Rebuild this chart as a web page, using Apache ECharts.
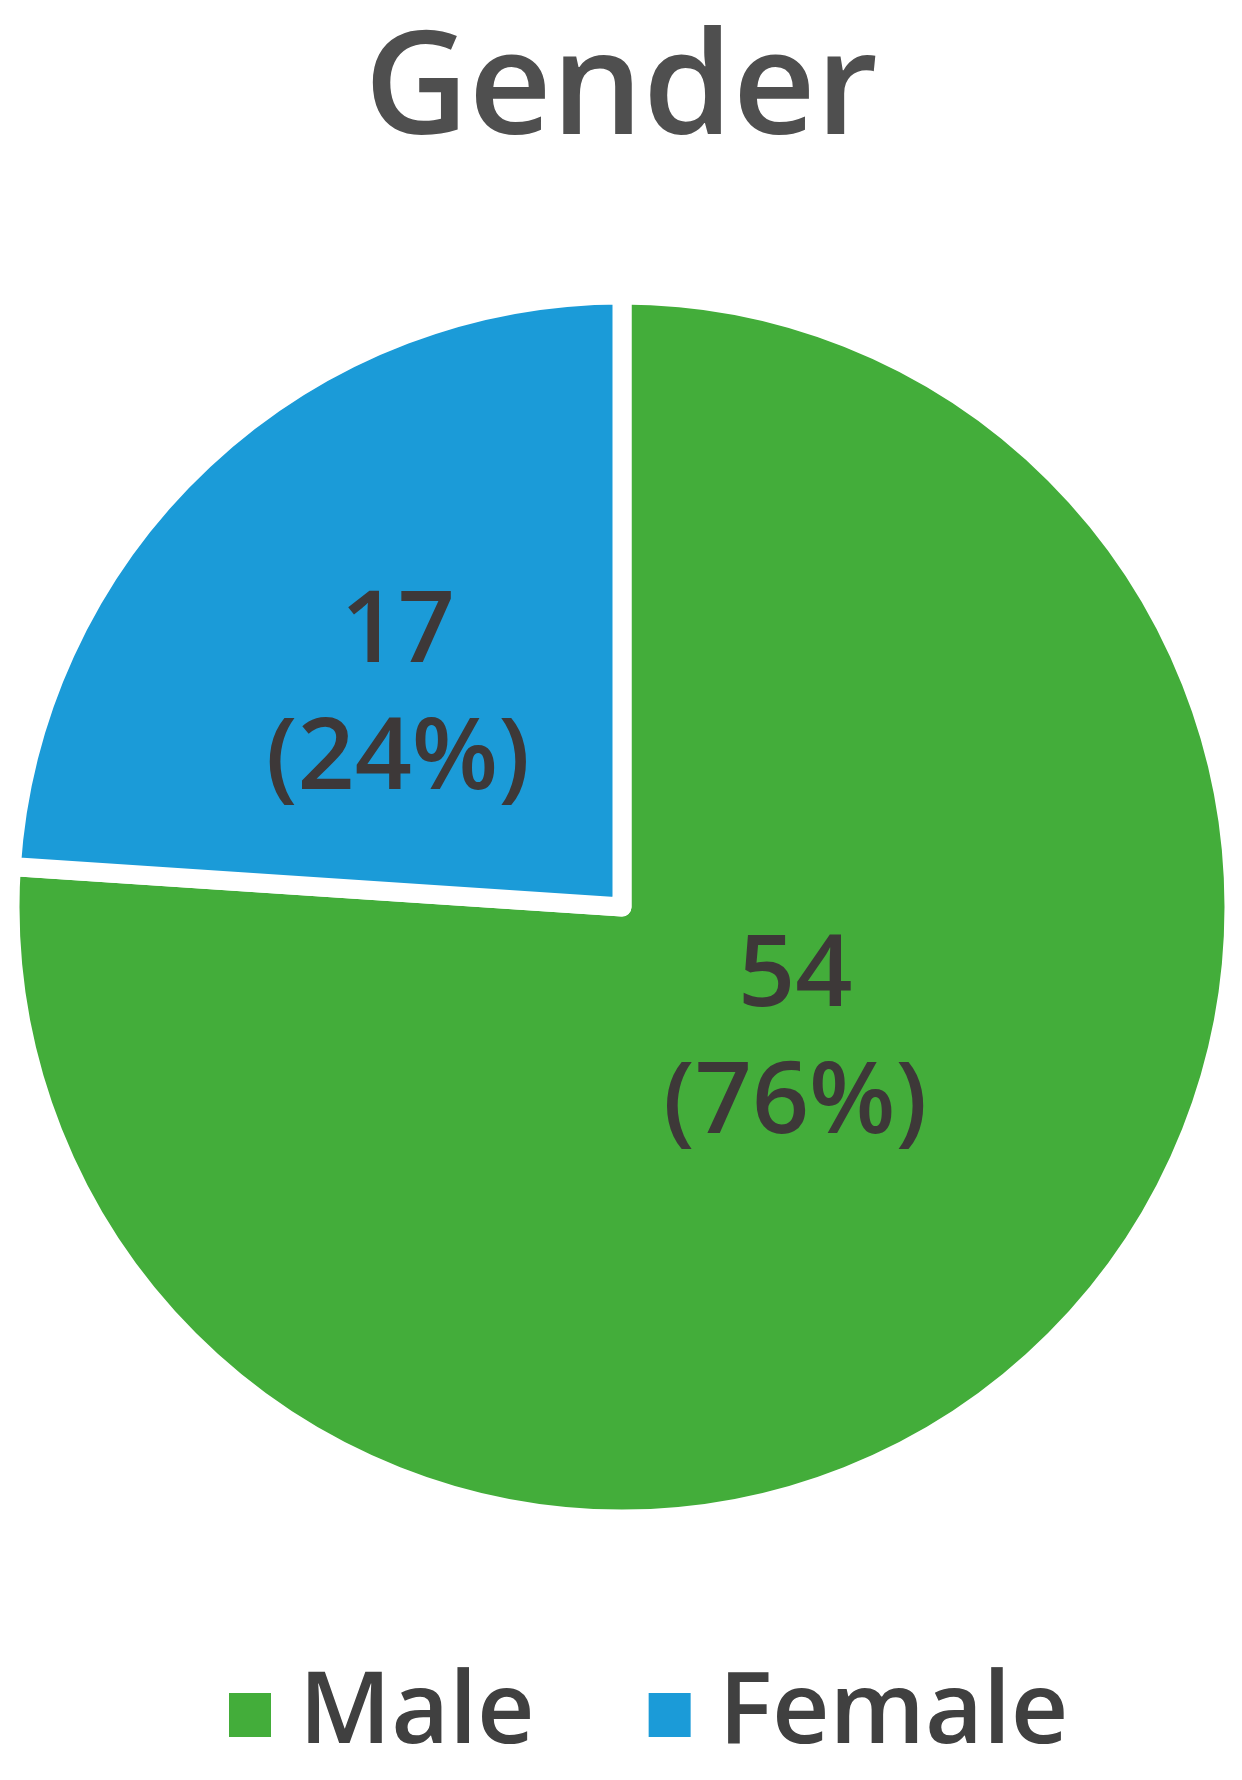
<!DOCTYPE html>
<html>
<head>
<meta charset="utf-8">
<title>Gender</title>
<script src="https://cdn.jsdelivr.net/npm/echarts@6/dist/echarts.min.js"></script>
<style>
  html, body { margin: 0; padding: 0; background: #fff; }
  #chart { width: 1242px; height: 1780px; }
</style>
</head>
<body>
<div id="chart"></div>
<script>
// data
var categories = ['Male', 'Female'];
var counts = [54, 17];
var sliceColors = ['#43ad3a', '#1b9bd8'];

// nudges so the inside labels sit where Excel put them
var labelOffsets = [[-38, -92], [-13, 16]];

var chart = echarts.init(document.getElementById('chart'));

var seriesData = [];
for (var i = 0; i < categories.length; i++) {
  seriesData.push({
    name: categories[i],
    value: counts[i],
    itemStyle: { color: sliceColors[i] },
    label: { offset: labelOffsets[i] }
  });
}

var option = {
  backgroundColor: '#ffffff',
  animation: false,
  title: {
    text: 'Gender',
    left: 'center',
    top: 16,
    textStyle: {
      fontFamily: 'Open Sans',
      fontWeight: 600,
      fontSize: 144,
      color: '#4f4f4f'
    }
  },
  legend: {
    data: categories,
    bottom: 10,
    left: 222,
    icon: 'rect',
    itemWidth: 44,
    itemHeight: 46,
    itemGap: 112,
    textStyle: {
      fontFamily: 'Open Sans',
      fontWeight: 600,
      fontSize: 100,
      color: '#404040',
      padding: [0, 0, 0, 22]
    }
  },
  series: [{
    type: 'pie',
    center: [622, 907],
    radius: 612,
    startAngle: 90,
    clockwise: true,
    percentPrecision: 0,
    itemStyle: {
      borderColor: '#ffffff',
      borderWidth: 19
    },
    label: {
      show: true,
      position: 'inside',
      formatter: '{c}\n({d}%)',
      fontFamily: 'Open Sans',
      fontWeight: 600,
      fontSize: 100,
      lineHeight: 127,
      color: '#3d3838'
    },
    labelLine: { show: false },
    emphasis: { disabled: true },
    data: seriesData
  }]
};

chart.setOption(option);
</script>
</body>
</html>
